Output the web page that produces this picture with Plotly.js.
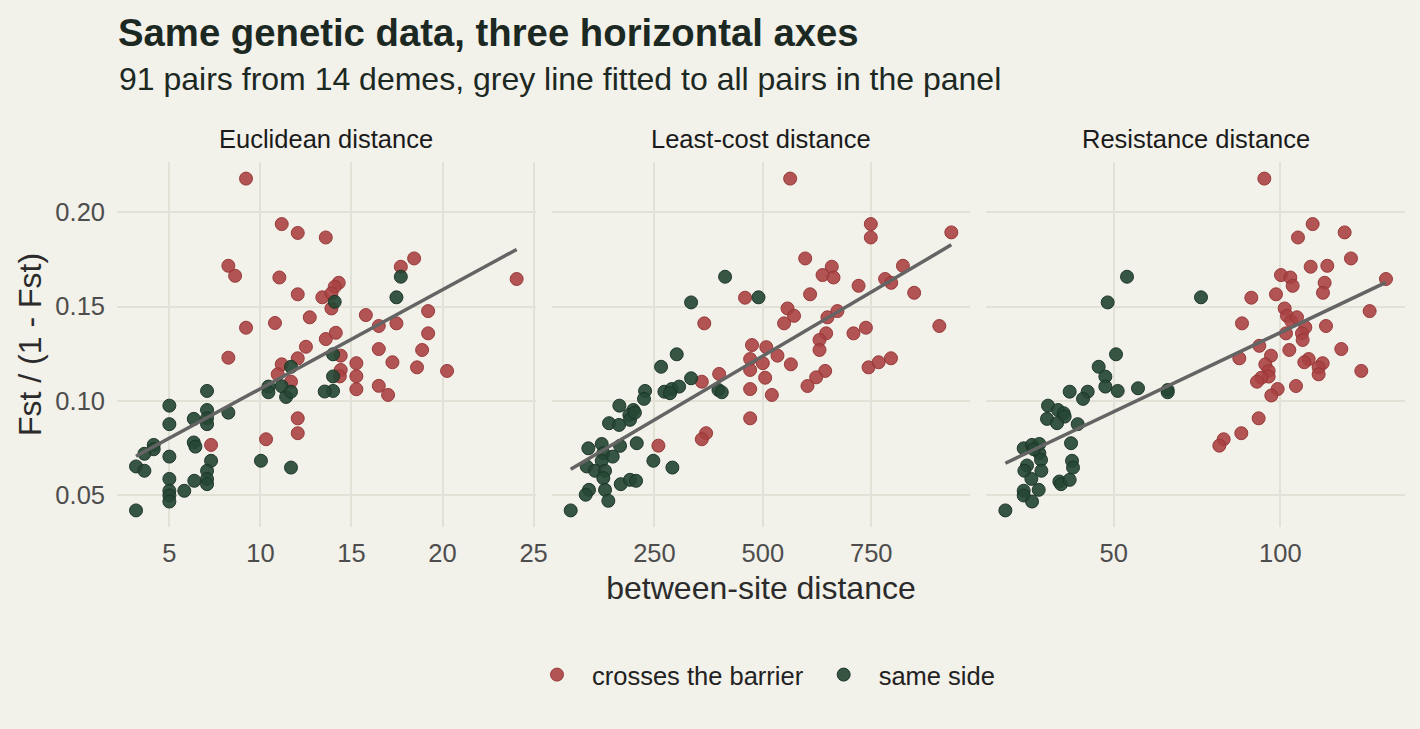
<!DOCTYPE html>
<html>
<head>
<meta charset="utf-8">
<script src="https://cdn.plot.ly/plotly-3.0.1.min.js"></script>
<style>
  html, body { margin: 0; padding: 0; background: #F2F1EA; }
  #chart { width: 1420px; height: 729px; }
</style>
</head>
<body>
<div id="chart"></div>
<script>
// Fst / (1 - Fst) for 91 deme pairs, plotted against three distance measures.
// Each panel holds pairs that cross the barrier and pairs on the same side.

const panelTitles = ["Euclidean distance", "Least-cost distance", "Resistance distance"];
const groupNames = ["crosses the barrier", "same side"];

// Euclidean distance panel
const eucCrossX = [9.21,11.17,12.05,13.59,8.24,8.61,11.04,12.05,13.4,12.71,10.8,9.21,13.59,18.44,17.71,24.07,14.3,14.08,13.9,13.9,15.79,16.5,17.47,19.21,19.21,14.14,16.5,18.88,14.41,15.27,17.25,18.6,20.25,14.41,15.27,14.36,15.27,16.5,17.01,8.24,12.5,12.05,11.17,10.95,11.68,12.05,12.05,10.31,7.29];
const eucCrossY = [0.2178,0.1937,0.189,0.1866,0.1716,0.1663,0.1654,0.1565,0.1549,0.1443,0.1413,0.1388,0.1328,0.1755,0.1711,0.1646,0.1626,0.1605,0.157,0.149,0.1455,0.1397,0.1411,0.1476,0.1358,0.1361,0.1275,0.127,0.124,0.12,0.1205,0.1178,0.1159,0.1164,0.1131,0.113,0.1062,0.108,0.1032,0.1229,0.1287,0.1226,0.1194,0.1141,0.1102,0.0908,0.0829,0.0797,0.0767];
const eucSameX = [17.71,14.08,17.47,13.99,13.99,13.99,13.53,11.68,10.44,10.44,11.17,11.41,11.68,10.03,11.68,7.07,5.0,7.07,6.34,7.07,7.07,5.0,8.24,4.14,4.14,3.63,6.34,6.43,5.0,7.29,3.17,3.63,7.07,5.0,7.07,6.37,7.07,5.82,5.0,5.0,5.0,3.17];
const eucSameY = [0.1658,0.1525,0.1549,0.1247,0.113,0.1053,0.105,0.1181,0.1076,0.1046,0.1078,0.1021,0.1049,0.0683,0.0647,0.1053,0.0975,0.0952,0.0905,0.0908,0.0877,0.0877,0.0938,0.0767,0.0744,0.072,0.078,0.0758,0.0705,0.0683,0.0653,0.063,0.063,0.0587,0.0587,0.0577,0.0559,0.0524,0.0524,0.0499,0.0467,0.042];

// Least-cost distance panel
const lcdCrossX = [459,365,475,563,749,749,934.6,597.7,659,637.7,663,823,720.8,782,796,849,609,557,572,549,649,672,646,630.7,709,737.7,907,508,630.7,533.8,470.8,500,564.7,643.8,623,603,743.8,767,795.5,470.8,505.4,470.8,520.8,470.8,399.3,359.3,369.2,359.3,259.2];
const lcdCrossY = [0.1547,0.1411,0.1296,0.2178,0.1937,0.1866,0.1893,0.1755,0.1711,0.1667,0.1654,0.1716,0.161,0.1646,0.1626,0.1573,0.1565,0.149,0.1451,0.1411,0.1443,0.1476,0.1358,0.1323,0.1358,0.1388,0.1397,0.1285,0.127,0.124,0.1222,0.12,0.1194,0.1159,0.1125,0.1079,0.1178,0.1205,0.1226,0.1164,0.1123,0.1063,0.1032,0.0908,0.1143,0.1102,0.0829,0.0797,0.0763];
const lcdSameX = [413,334.6,490,301.5,265.4,228.5,226,273,290,307,286,334.6,397.7,405.4,169.2,201.5,192.3,193.8,145.4,168.5,209.3,170.8,128.5,97.7,132.2,153.9,128.5,93.9,113,136.2,132.2,172.4,193.8,207.7,247.6,291.5,99.2,91.6,136.2,143.8,57,205];
const lcdSameY = [0.1658,0.1522,0.1549,0.1247,0.1181,0.1053,0.1011,0.1049,0.1063,0.1076,0.1041,0.112,0.1058,0.1046,0.0975,0.0952,0.0926,0.09,0.0882,0.0873,0.0776,0.0762,0.0772,0.0749,0.0723,0.0705,0.0683,0.0653,0.063,0.063,0.0591,0.0559,0.0582,0.0577,0.0683,0.0647,0.0529,0.0503,0.0529,0.0471,0.042,0.0938];

// Resistance distance panel
const resCrossX = [95.2,109.7,119.3,105.3,121.2,109.1,114.1,100.2,103,103.7,113.3,112.8,131.7,98.7,91.3,88.5,101.3,102,103.3,107.5,113.7,126.8,101.7,106.5,106.7,93.7,102.7,118.3,87.7,97.2,95.5,108.5,107.2,112.7,111.5,111.5,124.3,96.5,96.5,94.3,93,104.7,99.2,97.3,93.5,88.3,83,81.7,105];
const resCrossY = [0.2178,0.1937,0.1893,0.1866,0.1755,0.1711,0.1716,0.1667,0.1654,0.161,0.1626,0.1573,0.1646,0.1565,0.1547,0.1411,0.149,0.1451,0.1423,0.139,0.1397,0.1476,0.1358,0.1358,0.1323,0.1292,0.127,0.1275,0.1226,0.124,0.1194,0.1222,0.1205,0.12,0.1178,0.1141,0.1159,0.1159,0.1129,0.1123,0.1102,0.1079,0.1063,0.1029,0.0908,0.0829,0.0797,0.0763,0.1443];
const resSameX = [54,48.2,76.2,50.7,45.5,47.5,47.5,51.2,57.3,66.2,66.2,36.8,42.2,40.8,30.3,33.3,35,35.3,30,33,39.2,37.2,23,25.5,27.7,27.7,28.2,37.5,37.8,24,23.2,28.3,25.3,33.7,34.2,36.8,23,27.5,23,25.5,17.5,26];
const resSameY = [0.1658,0.1522,0.1549,0.1247,0.1181,0.1129,0.1076,0.1053,0.1067,0.1058,0.1046,0.1049,0.1049,0.1011,0.0975,0.0952,0.0935,0.0917,0.0905,0.0882,0.0877,0.0776,0.0749,0.0767,0.0772,0.0723,0.0688,0.0683,0.0647,0.0658,0.063,0.063,0.0587,0.0573,0.0559,0.0582,0.0524,0.0529,0.0499,0.0467,0.042,0.0744];

const xTicks = [[5, 10, 15, 20, 25], [250, 500, 750], [50, 100]];
const yTicks = [0.05, 0.10, 0.15, 0.20];

const panels = [
  { cx: eucCrossX, cy: eucCrossY, sx: eucSameX, sy: eucSameY },
  { cx: lcdCrossX, cy: lcdCrossY, sx: lcdSameX, sy: lcdSameY },
  { cx: resCrossX, cy: resCrossY, sx: resSameX, sy: resSameY }
];

const BG = "#F2F1EA";
const GRID = "#E2E1D6";
const RED = "rgba(170,66,66,0.9)";
const RED_EDGE = "rgba(150,54,54,0.95)";
const GREEN = "rgba(38,72,52,0.92)";
const GREEN_EDGE = "rgba(26,52,37,0.95)";
const FONT = "Liberation Sans, Arial, Helvetica, sans-serif";

// Range padded by 5% on each side, like a default continuous scale
function padded(vals) {
  const lo = Math.min(...vals), hi = Math.max(...vals);
  const pad = (hi - lo) * 0.05;
  return [lo - pad, hi + pad];
}

// Ordinary least squares line spanning the observed x range
function lmLine(xs, ys) {
  const n = xs.length;
  const mx = xs.reduce((a, b) => a + b, 0) / n;
  const my = ys.reduce((a, b) => a + b, 0) / n;
  let sxy = 0, sxx = 0;
  for (let i = 0; i < n; i++) {
    sxy += (xs[i] - mx) * (ys[i] - my);
    sxx += (xs[i] - mx) * (xs[i] - mx);
  }
  const b = sxy / sxx, a = my - b * mx;
  const x0 = Math.min(...xs), x1 = Math.max(...xs);
  return { x: [x0, x1], y: [a + b * x0, a + b * x1] };
}

const allY = [].concat(...panels.map(p => p.cy.concat(p.sy)));
const yRange = padded(allY);

const traces = [];
panels.forEach((p, i) => {
  const xa = i === 0 ? "x" : "x" + (i + 1);
  const ya = i === 0 ? "y" : "y" + (i + 1);
  traces.push({
    type: "scatter", mode: "markers", x: p.cx, y: p.cy, xaxis: xa, yaxis: ya,
    name: groupNames[0], legendgroup: "cross", showlegend: i === 0,
    marker: { size: 13, color: RED, line: { color: RED_EDGE, width: 1 } },
    hoverinfo: "skip"
  });
  traces.push({
    type: "scatter", mode: "markers", x: p.sx, y: p.sy, xaxis: xa, yaxis: ya,
    name: groupNames[1], legendgroup: "same", showlegend: i === 0,
    marker: { size: 13, color: GREEN, line: { color: GREEN_EDGE, width: 1 } },
    hoverinfo: "skip"
  });
  const fit = lmLine(p.cx.concat(p.sx), p.cy.concat(p.sy));
  traces.push({
    type: "scatter", mode: "lines", x: fit.x, y: fit.y, xaxis: xa, yaxis: ya,
    showlegend: false, line: { color: "#646464", width: 3.5 }, hoverinfo: "skip"
  });
});

// Three facets side by side with a 16px gutter
const plotW = 1420 - 117 - 15;
const gap = 16 / plotW;
const w = (1 - 2 * gap) / 3;
const domains = [[0, w], [w + gap, 2 * w + gap], [2 * w + 2 * gap, 1]];

const layout = {
  width: 1420, height: 729,
  paper_bgcolor: BG, plot_bgcolor: BG,
  margin: { l: 117, r: 15, t: 162, b: 202, pad: 0 },
  font: { family: FONT, color: "#333333" },
  showlegend: true,
  hovermode: false,
  title: {
    text: "Same genetic data, three horizontal axes",
    font: { family: FONT, size: 38.3, weight: 700, color: "#1C2822" },
    xref: "container", x: 118 / 1420, xanchor: "left",
    yref: "container", y: 1 - 33 / 729, yanchor: "middle"
  },
  legend: {
    orientation: "h", x: 0.5, xanchor: "center", xref: "paper",
    y: (527 - 675) / 365, yanchor: "middle",
    font: { family: FONT, size: 25.5, color: "#222222" },
    bgcolor: "rgba(0,0,0,0)", itemwidth: 60, traceorder: "normal"
  },
  annotations: [
    {
      text: "91 pairs from 14 demes, grey line fitted to all pairs in the panel",
      xref: "paper", yref: "paper", x: 0, y: (527 - 79) / 365,
      xanchor: "left", yanchor: "middle", showarrow: false,
      font: { family: FONT, size: 32, color: "#1C2822" }
    }
  ]
};

panels.forEach((p, i) => {
  const xk = i === 0 ? "xaxis" : "xaxis" + (i + 1);
  const yk = i === 0 ? "yaxis" : "yaxis" + (i + 1);
  layout[xk] = {
    domain: domains[i], anchor: i === 0 ? "y" : "y" + (i + 1),
    range: padded(p.cx.concat(p.sx)),
    tickvals: xTicks[i], ticktext: xTicks[i].map(String),
    showgrid: true, gridcolor: GRID, gridwidth: 2,
    zeroline: false, showline: false, ticks: "",
    tickfont: { family: FONT, size: 25.5, color: "#4D4D4D" },
    ticklabelstandoff: 8
  };
  layout[yk] = {
    domain: [0, 1], anchor: i === 0 ? "x" : "x" + (i + 1),
    range: yRange,
    tickvals: yTicks, ticktext: yTicks.map(v => v.toFixed(2)),
    showticklabels: i === 0,
    showgrid: true, gridcolor: GRID, gridwidth: 2,
    zeroline: false, showline: false, ticks: "",
    tickfont: { family: FONT, size: 25.5, color: "#4D4D4D" },
    ticklabelstandoff: 11
  };
  layout.annotations.push({
    text: panelTitles[i], xref: "paper", yref: "paper",
    x: (domains[i][0] + domains[i][1]) / 2, y: (527 - 139) / 365,
    xanchor: "center", yanchor: "middle", showarrow: false,
    font: { family: FONT, size: 25.5, color: "#1A1A1A" }
  });
});

layout.xaxis2.title = { text: "between-site distance", font: { family: FONT, size: 32, color: "#2B2B2B" }, standoff: 11 };
layout.yaxis.title = { text: "Fst / (1 - Fst)", font: { family: FONT, size: 32, color: "#2B2B2B" }, standoff: 4 };

Plotly.newPlot("chart", traces, layout, { staticPlot: true, displayModeBar: false });
</script>
</body>
</html>
